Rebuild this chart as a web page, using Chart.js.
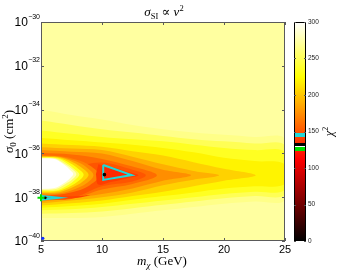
<!DOCTYPE html>
<html><head><meta charset="utf-8">
<script src="https://cdn.jsdelivr.net/npm/chart.js@4.4.1/dist/chart.umd.min.js"></script>
<style>
html,body{margin:0;padding:0;background:#fff;}
#wrap{position:relative;width:338px;height:270px;overflow:hidden;}
#main{position:absolute;left:0;top:0;}
#cbar{position:absolute;left:286px;top:0;}
</style></head><body>
<div id="wrap"><canvas id="main" width="338" height="270"></canvas><canvas id="cbar" width="52" height="270"></canvas></div>
<script>
// ---------- data ----------
const xTicks = [5, 10, 15, 20, 25];
const yTickExps = [-40, -38, -36, -34, -32, -30];
const cbTicks = [0, 50, 100, 150, 200, 250, 300];

const bgChi2 = 272;                       // chi^2 level of the flat background
const bgRect = [[5,-40],[25,-40],[25,-30],[5,-30]];

// low-chi2 valley: contour levels, their top / bottom edges at the x stations, and tip
const valleyX = [5, 7.5, 10, 12.5, 15, 17.5, 20, 22.5, 25];
const valleyLevels = [265, 250, 235, 220, 205, 190, 175, 160, 150];
const valleyTop = [
  [-34.0, -34.25, -34.45, -34.7, -34.9, -35.05, -35.15, -35.25, -35.35],
  [-34.5, -34.7, -34.9, -35.05, -35.2, -35.35, -35.45, -35.55, -35.65],
  [-34.95, -35.1, -35.25, -35.35, -35.45, -35.6, -35.75, -35.85, -35.95],
  [-35.3, -35.4, -35.5, -35.6, -35.75, -35.95, -36.2, -36.35, -36.5],
  [-35.55, -35.62, -35.7, -35.9, -36.1, -36.4, -36.7],
  [-35.72, -35.78, -35.85, -36.15, -36.5, -36.8],
  [-35.85, -35.92, -36.0, -36.35, -36.75],
  [-35.97, -36.05, -36.25, -36.6],
  [-36.5, -36.6, -36.42, -36.75]
];
const valleyBot = [
  [-38.95, -38.95, -38.9, -38.75, -38.6, -38.45, -38.3, -38.2, -38.1],
  [-38.75, -38.72, -38.65, -38.5, -38.35, -38.2, -38.05, -37.95, -37.85],
  [-38.6, -38.55, -38.45, -38.3, -38.15, -38.0, -37.85, -37.75, -37.65],
  [-38.48, -38.4, -38.3, -38.12, -37.95, -37.78, -37.6, -37.5, -37.4],
  [-38.38, -38.28, -38.15, -37.95, -37.75, -37.5, -37.25],
  [-38.28, -38.15, -38.0, -37.78, -37.45, -37.2],
  [-38.2, -38.05, -37.85, -37.6, -37.25],
  [-38.13, -38.08, -37.65, -37.4],
  [-38.09, -38.05, -37.5, -37.28]
];
const valleyTip = [null, null, null, null, [22.6,-37.0], [19.6,-37.0], [17.3,-37.0], [14.5,-37.0], [13.6,-37.0]];

// high-chi2 ridge between the two arms (white region)
const ridgeLevels = [170, 185, 205, 230, 255, 280, 300];
const ridgePolys = [
  [[5,-36.08],[6.5,-36.12],[8,-36.3],[9,-36.55],[9.8,-37.0],[9,-37.45],[8,-37.7],[6.5,-37.88],[5,-37.92]],
  [[5,-36.11],[6.5,-36.15],[7.8,-36.35],[8.7,-36.62],[9.3,-37.0],[8.7,-37.38],[7.8,-37.62],[6.5,-37.83],[5,-37.87]],
  [[5,-36.14],[6.5,-36.18],[7.6,-36.4],[8.4,-36.68],[8.9,-36.98],[8.4,-37.3],[7.6,-37.55],[6.5,-37.77],[5,-37.81]],
  [[5,-36.17],[6.4,-36.2],[7.4,-36.45],[8.1,-36.72],[8.5,-36.97],[8.1,-37.25],[7.4,-37.5],[6.4,-37.72],[5,-37.75]],
  [[5,-36.19],[6.3,-36.22],[7.2,-36.48],[7.8,-36.75],[8.15,-36.96],[7.8,-37.2],[7.2,-37.45],[6.3,-37.68],[5,-37.7]],
  [[5,-36.21],[6.2,-36.24],[7.0,-36.5],[7.6,-36.75],[7.9,-36.95],[7.6,-37.17],[7.0,-37.4],[6.2,-37.63],[5,-37.66]],
  [[5,-36.23],[6.1,-36.26],[6.9,-36.52],[7.4,-36.77],[7.65,-36.94],[7.4,-37.12],[6.9,-37.35],[6.1,-37.58],[5,-37.62]]
];

// deepest cores
const coreLevels = [140, 130, 142];
const corePolys = [
  [[9.7,-36.5],[10.8,-36.62],[12.2,-36.85],[13.0,-37.0],[12.2,-37.12],[10.8,-37.3],[9.7,-37.42],[9.5,-36.95]],
  [[10.0,-36.62],[11.4,-36.82],[12.1,-36.98],[11.3,-37.12],[10.0,-37.24],[9.9,-36.95]],
  [[5,-37.96],[6.5,-37.97],[8,-37.95],[9.0,-37.9],[8,-38.03],[6.5,-38.07],[5,-38.08]]
];

// markers
const bestFitContour = [[10.1,-36.53],[12.43,-36.99],[10.1,-37.21],[10.1,-36.53]];
const bestFitPoint = [[10.2,-36.97]];
const lowContour = [[5.05,-37.95],[6.45,-38.03],[5.05,-38.11],[5.05,-37.95]];
const lowPoint = [[5.35,-38.03]];
const crossPoint = [[5.0,-38.03]];
const bluePoint = [[5.15,-39.88]];

// colour bar inserted bands
const cbBands = [[123.7,128.4,'#00e000'],[128.4,130,'#ffffff'],[130,133.8,'#000000'],[143,147.5,'#22d8d8']];

// ---------- helpers ----------
const SANS = '"Liberation Sans", Arial, sans-serif';
const SERIF = '"Liberation Serif", "DejaVu Serif", serif';

function hot(v){
  const t = Math.max(0, Math.min(1, v/300));
  const r = Math.min(1, t/0.375);
  const g = Math.max(0, Math.min(1, (t-0.375)/0.375));
  const b = Math.max(0, Math.min(1, (t-0.75)/0.25));
  return `rgb(${Math.round(r*255)},${Math.round(g*255)},${Math.round(b*255)})`;
}
const toXY = pts => pts.map(p => ({x:p[0], y:p[1]}));
function polyDataset(pts, level){
  return {type:'line', data: toXY(pts), fill:'shape', backgroundColor: hot(level),
    borderColor:'rgba(0,0,0,0)', borderWidth:0, pointRadius:0, tension:0.35};
}
function valleyPoly(i){
  const pts = [];
  valleyTop[i].forEach((y,k) => pts.push([valleyX[k], y]));
  if (valleyTip[i]) pts.push(valleyTip[i]);
  for (let k = valleyBot[i].length-1; k >= 0; k--) pts.push([valleyX[k], valleyBot[i][k]]);
  return pts;
}
function drawRuns(ctx, runs, cx, cy, rot){
  ctx.save(); ctx.translate(cx, cy); ctx.rotate(rot || 0);
  let w = 0;
  runs.forEach(r => { ctx.font = r.f; r.w = ctx.measureText(r.t).width; w += r.w; });
  let x = -w/2; ctx.textAlign = 'left'; ctx.textBaseline = 'alphabetic'; ctx.fillStyle = '#000';
  runs.forEach(r => { ctx.font = r.f; ctx.fillText(r.t, x, r.dy || 0); x += r.w; });
  ctx.restore();
}

// ---------- datasets (paint order: bottom first) ----------
const ds = [];
ds.push(polyDataset(bgRect, bgChi2));
valleyLevels.forEach((L,i) => ds.push(polyDataset(valleyPoly(i), L)));
ridgeLevels.forEach((L,i) => ds.push(polyDataset(ridgePolys[i], L)));
coreLevels.forEach((L,i) => ds.push(polyDataset(corePolys[i], L)));
const lastHeat = ds.length - 1;
ds.push({type:'line', data: toXY(bestFitContour), borderColor:'#1ed8d8', borderWidth:2, pointRadius:0, fill:false, tension:0, clip:false});
ds.push({type:'line', data: toXY(lowContour), borderColor:'#1ed8d8', borderWidth:2, pointRadius:0, fill:false, tension:0, clip:false});
ds.push({type:'line', data: toXY(bestFitPoint), showLine:false, pointRadius:1.8, pointBackgroundColor:'#000', pointBorderWidth:0, clip:false});
ds.push({type:'line', data: toXY(lowPoint), showLine:false, pointRadius:1.4, pointBackgroundColor:'#000', pointBorderWidth:0, clip:false});
ds.push({type:'line', data: toXY(crossPoint), showLine:false, pointStyle:'cross', pointRadius:3.5, pointBorderWidth:2, pointBorderColor:'#00e000', clip:false});
ds.push({type:'line', data: toXY(bluePoint), showLine:false, pointRadius:1.6, pointBackgroundColor:'#1030ff', pointBorderWidth:0, clip:false});
ds.forEach((d,i) => { d.order = ds.length - i; });

const framePlugin = {
  id:'frame',
  afterDatasetDraw(chart, args){
    if (args.index !== lastHeat) return;
    const ctx = chart.ctx, a = chart.chartArea, xs = chart.scales.x, ys = chart.scales.y;
    ctx.save();
    ctx.strokeStyle = '#5a5a5a'; ctx.lineWidth = 1;
    ctx.strokeRect(a.left + 0.5, a.top + 0.5, a.right - a.left - 1, a.bottom - a.top - 1);
    ctx.beginPath();
    xTicks.forEach(v => { const px = Math.round(xs.getPixelForValue(v)) + 0.5;
      ctx.moveTo(px, a.bottom); ctx.lineTo(px, a.bottom - 3); ctx.moveTo(px, a.top); ctx.lineTo(px, a.top + 3); });
    yTickExps.forEach(v => { const py = Math.round(ys.getPixelForValue(v)) + 0.5;
      ctx.moveTo(a.left, py); ctx.lineTo(a.left + 3, py); ctx.moveTo(a.right, py); ctx.lineTo(a.right - 3, py); });
    ctx.stroke();
    ctx.restore();
  },
  afterDraw(chart){
    const ctx = chart.ctx, a = chart.chartArea, ys = chart.scales.y;
    ctx.save(); ctx.fillStyle = '#000'; ctx.textBaseline = 'alphabetic'; ctx.textAlign = 'left';
    const xr = a.left - 1;
    yTickExps.forEach(e => {
      const py = ys.getPixelForValue(e);
      const expTxt = '\u2212' + Math.abs(e);
      ctx.font = `7px ${SANS}`; const ew = ctx.measureText(expTxt).width;
      ctx.fillText(expTxt, xr - ew, py - 3.5);
      ctx.font = `12px ${SANS}`; const bw = ctx.measureText('10').width;
      ctx.fillText('10', xr - ew - bw - 0.3, py + 4.3);
    });
    ctx.restore();
    drawRuns(ctx, [
      {t:'\u03c3', f:`italic 13px ${SERIF}`},
      {t:'SI', f:`8.5px ${SERIF}`, dy:2.5},
      {t:' \u221d ', f:`13px ${SERIF}`},
      {t:'v', f:`italic 13px ${SERIF}`},
      {t:'2', f:`8.5px ${SERIF}`, dy:-5}
    ], (a.left + a.right)/2 + 1, 16);
    drawRuns(ctx, [
      {t:'m', f:`italic 13px ${SERIF}`},
      {t:'\u03c7', f:`italic 9px ${SERIF}`, dy:3},
      {t:' (GeV)', f:`13px ${SERIF}`}
    ], (a.left + a.right)/2 - 1, 264.5);
    drawRuns(ctx, [
      {t:'\u03c3', f:`italic 13px ${SERIF}`},
      {t:'0', f:`9px ${SERIF}`, dy:3},
      {t:' (cm', f:`13px ${SERIF}`},
      {t:'2', f:`9px ${SERIF}`, dy:-5},
      {t:')', f:`13px ${SERIF}`}
    ], 12.5, (a.top + a.bottom)/2, -Math.PI/2);
  }
};

new Chart(document.getElementById('main'), {
  type:'line',
  data:{datasets: ds},
  options:{
    responsive:false, animation:false, devicePixelRatio:1, events:[],
    layout:{padding:{left:0, top:22, right:53, bottom:0}},
    plugins:{legend:{display:false}, tooltip:{enabled:false}, title:{display:false}},
    scales:{
      x:{type:'linear', min:5, max:25, afterBuildTicks: s => { s.ticks = xTicks.map(v => ({value:v})); },
         ticks:{font:{size:11, family:SANS}, color:'#000', padding:2.5, maxRotation:0, autoSkip:false},
         grid:{display:false, drawTicks:false}, border:{display:false},
         afterFit: s => { s.height = 29; }},
      y:{type:'linear', min:-40, max:-30, afterBuildTicks: s => { s.ticks = yTickExps.map(v => ({value:v})); },
         ticks:{display:false}, grid:{display:false, drawTicks:false}, border:{display:false},
         afterFit: s => { s.width = 41; }}
    }
  },
  plugins:[framePlugin]
});

// ---------- colour bar ----------
function cbGradient(chart){
  const ys = chart.scales.y;
  if (!ys || !chart.chartArea) return hot(150);
  const y0 = ys.getPixelForValue(0), y1 = ys.getPixelForValue(300);
  const g = chart.ctx.createLinearGradient(0, y0, 0, y1);
  const bandAt = v => { for (const b of cbBands) if (v >= b[0] && v < b[1]) return b[2]; return null; };
  const vals = [];
  for (let v = 0; v <= 300; v += 2) vals.push(v);
  cbBands.forEach(b => vals.push(b[0]-0.01, b[0], b[1]-0.01, b[1]));
  vals.sort((a,b) => a-b);
  vals.forEach(v => g.addColorStop(Math.max(0, Math.min(1, v/300)), bandAt(v) || hot(v)));
  return g;
}
const cbPlugin = {
  id:'cbframe',
  afterDraw(chart){
    const ctx = chart.ctx, a = chart.chartArea, ys = chart.scales.y;
    ctx.save();
    ctx.strokeStyle = '#000'; ctx.lineWidth = 1;
    ctx.strokeRect(a.left + 0.5, a.top + 0.5, a.right - a.left - 1, a.bottom - a.top - 1);
    ctx.strokeStyle = '#555';
    ctx.beginPath();
    cbTicks.forEach(v => { const py = Math.round(ys.getPixelForValue(v)) + 0.5;
      ctx.moveTo(a.left, py); ctx.lineTo(a.left + 2, py); ctx.moveTo(a.right, py); ctx.lineTo(a.right - 2, py); });
    ctx.stroke();
    ctx.restore();
    drawRuns(ctx, [
      {t:'\u03c7', f:`italic 12px ${SERIF}`},
      {t:'2', f:`8px ${SERIF}`, dy:-5}
    ], 47, (a.top + a.bottom)/2, -Math.PI/2);
  }
};
new Chart(document.getElementById('cbar'), {
  type:'bar',
  data:{labels:['chi2'], datasets:[{data:[[0,300]], backgroundColor: c => cbGradient(c.chart), borderWidth:0, barPercentage:1, categoryPercentage:1}]},
  options:{
    responsive:false, animation:false, devicePixelRatio:1, events:[],
    layout:{padding:{left:8, top:22, bottom:29, right:0}},
    plugins:{legend:{display:false}, tooltip:{enabled:false}},
    scales:{
      x:{display:false},
      y:{position:'right', min:0, max:300, afterBuildTicks: s => { s.ticks = cbTicks.map(v => ({value:v})); },
         ticks:{font:{size:6.5, family:SANS}, color:'#222', padding:2},
         grid:{display:false, drawTicks:false}, border:{display:false},
         afterFit: s => { s.width = 32; }}
    }
  },
  plugins:[cbPlugin]
});
</script></body></html>
